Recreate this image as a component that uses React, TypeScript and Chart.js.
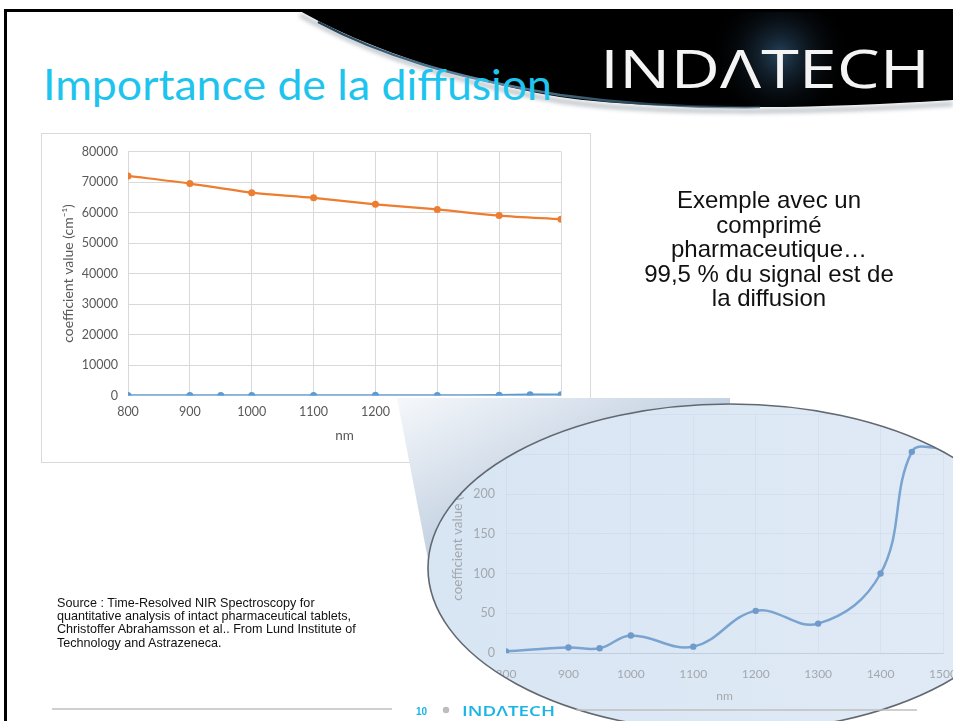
import React, { useEffect, useRef } from "react";
import { Chart, registerables } from "chart.js";

Chart.register(...registerables);

// ---- data ----
const absorptionWavelengths = [800, 900, 950, 1000, 1100, 1200, 1300, 1400, 1450, 1500];
const absorptionValues = [2, 7, 6, 22, 8, 53, 37, 100, 253, 258];
const scatteringWavelengths = [800, 900, 1000, 1100, 1200, 1300, 1400, 1500];
const scatteringValues = [72000, 69500, 66500, 64800, 62700, 61000, 59000, 57800];

const mainXRange = [800, 1500];
const mainXStep = 100;
const mainYRange = [0, 80000];
const mainYStep = 10000;
const insetXRange = [800, 1500];
const insetYRange = [0, 300];
const insetYStep = 50;

const titleText = "Importance de la diffusion";
const noteLines = ["Exemple avec un", "comprimé", "pharmaceutique…", "99,5 % du signal est de", "la diffusion"];
const sourceLines = [
  "Source : Time-Resolved NIR Spectroscopy for",
  "quantitative analysis of intact pharmaceutical tablets,",
  "Christoffer Abrahamsson et al.. From Lund Institute of",
  "Technology and Astrazeneca.",
];

const FONT = 'Lato, "Open Sans", "DejaVu Sans", sans-serif';
const ARIAL = '"Liberation Sans", Arial, sans-serif';

const toXY = (xs: number[], ys: number[]) => xs.map((x, i) => ({ x, y: ys[i] }));

// inset lens geometry (canvas coordinates of inset canvas)
const INSET_LEFT = 420;
const INSET_TOP = 395;
const INSET_W = 580;
const INSET_H = 340;
const LENS = { cx: 310, cy: 173, rx: 302, ry: 164 };

export default function App() {
  const mainRef = useRef<HTMLCanvasElement>(null);
  const insetRef = useRef<HTMLCanvasElement>(null);

  useEffect(() => {
    const charts: Chart[] = [];
    const plain = (v: any) => String(v);

    if (mainRef.current) {
      charts.push(
        new Chart(mainRef.current, {
          type: "line",
          data: {
            datasets: [
              {
                label: "absorption",
                data: toXY(absorptionWavelengths, absorptionValues),
                borderColor: "#5b9bd5",
                backgroundColor: "#5b9bd5",
                borderWidth: 2.25,
                pointRadius: 3.5,
                pointBorderWidth: 0,
                tension: 0.3,
              },
              {
                label: "scattering",
                data: toXY(scatteringWavelengths, scatteringValues),
                borderColor: "#ed7d31",
                backgroundColor: "#ed7d31",
                borderWidth: 2.25,
                pointRadius: 3.5,
                pointBorderWidth: 0,
                tension: 0.3,
              },
            ],
          },
          options: {
            animation: false,
            responsive: false,
            layout: { padding: { left: 0, right: 29, top: 15, bottom: 0 } },
            plugins: { legend: { display: false }, tooltip: { enabled: false } },
            scales: {
              x: {
                type: "linear",
                min: mainXRange[0],
                max: mainXRange[1],
                ticks: {
                  stepSize: mainXStep,
                  callback: plain,
                  padding: 9,
                  color: "#595959",
                  maxRotation: 0,
                  font: { family: FONT, size: 12.5 },
                },
                grid: { color: "#d9d9d9", drawTicks: false },
                border: { color: "#d9d9d9" },
                title: {
                  display: true,
                  text: "nm",
                  color: "#595959",
                  font: { family: FONT, size: 13.5 },
                  padding: { top: 0, bottom: 18 },
                },
                afterFit: (s: any) => {
                  s.height = 66.5;
                },
              },
              y: {
                min: mainYRange[0],
                max: mainYRange[1],
                ticks: {
                  stepSize: mainYStep,
                  callback: plain,
                  padding: 10,
                  color: "#595959",
                  font: { family: FONT, size: 12.5 },
                },
                grid: { color: "#d9d9d9", drawTicks: false },
                border: { color: "#d9d9d9" },
                title: {
                  display: true,
                  text: "coefficient value (cm⁻¹)",
                  color: "#595959",
                  font: { family: FONT, size: 14 },
                  padding: { top: 18, bottom: 0 },
                },
                afterFit: (s: any) => {
                  s.width = 86;
                },
              },
            },
          },
        } as any)
      );
    }

    if (insetRef.current) {
      const lensPlugin = {
        id: "lens",
        beforeDraw(chart: any) {
          const ctx = chart.ctx as CanvasRenderingContext2D;
          ctx.save();
          ctx.beginPath();
          ctx.ellipse(LENS.cx, LENS.cy, LENS.rx, LENS.ry, 0, 0, Math.PI * 2);
          const g = ctx.createLinearGradient(LENS.cx - LENS.rx, 0, LENS.cx + LENS.rx, 0);
          g.addColorStop(0, "#d8e5f3");
          g.addColorStop(1, "#e1ebf6");
          ctx.fillStyle = g;
          ctx.fill();
          ctx.clip();
        },
        afterDraw(chart: any) {
          const ctx = chart.ctx as CanvasRenderingContext2D;
          ctx.restore();
          ctx.save();
          ctx.beginPath();
          ctx.ellipse(LENS.cx, LENS.cy, LENS.rx, LENS.ry, 0, 0, Math.PI * 2);
          ctx.strokeStyle = "#626870";
          ctx.lineWidth = 1.6;
          ctx.stroke();
          ctx.restore();
        },
      };
      charts.push(
        new Chart(insetRef.current, {
          type: "line",
          data: {
            datasets: [
              {
                label: "absorption",
                data: toXY(absorptionWavelengths, absorptionValues),
                borderColor: "#7aa4d0",
                backgroundColor: "#6f9acb",
                borderWidth: 2.5,
                pointRadius: 3.2,
                pointBorderWidth: 0,
                tension: 0.4,
              },
            ],
          },
          options: {
            animation: false,
            responsive: false,
            layout: { padding: { left: 0, right: 57, top: 19.5, bottom: 0 } },
            plugins: { legend: { display: false }, tooltip: { enabled: false } },
            scales: {
              x: {
                type: "linear",
                min: insetXRange[0],
                max: insetXRange[1],
                ticks: {
                  stepSize: 100,
                  callback: plain,
                  padding: 14,
                  color: "#a3a8ae",
                  maxRotation: 0,
                  autoSkip: false,
                  font: { family: FONT, size: 12 },
                },
                grid: { color: "rgba(170,190,215,0.18)", drawTicks: false },
                border: { color: "rgba(170,185,205,0.45)" },
                title: {
                  display: true,
                  text: "nm",
                  color: "#a3a8ae",
                  font: { family: FONT, size: 12 },
                  padding: { top: 0, bottom: 32 },
                },
                afterFit: (s: any) => {
                  s.height = 82;
                },
              },
              y: {
                min: insetYRange[0],
                max: insetYRange[1],
                ticks: {
                  stepSize: insetYStep,
                  callback: plain,
                  padding: 11,
                  color: "#a3a8ae",
                  font: { family: FONT, size: 12.5 },
                },
                grid: { color: "rgba(170,190,215,0.18)", drawTicks: false },
                border: { display: false },
                title: {
                  display: true,
                  text: "coefficient value (cm⁻¹)",
                  color: "#a3a8ae",
                  font: { family: FONT, size: 13.5 },
                  padding: { top: 30, bottom: 0 },
                },
                afterFit: (s: any) => {
                  s.width = 86;
                },
              },
            },
          },
          plugins: [lensPlugin],
        } as any)
      );
    }

    return () => charts.forEach((c) => c.destroy());
  }, []);

  const abs = (o: React.CSSProperties): React.CSSProperties => ({ position: "absolute", ...o });

  return (
    <div style={abs({ left: 0, top: 0, width: 953, height: 721, overflow: "hidden", background: "#fff" })}>
      {/* header */}
      <svg width={953} height={135} style={abs({ left: 0, top: 0 })}>
        <defs>
          <radialGradient id="glow" cx="780" cy="55" r="70" gradientUnits="userSpaceOnUse">
            <stop offset="0" stopColor="#2a4a66" stopOpacity="0.9" />
            <stop offset="1" stopColor="#000" stopOpacity="0" />
          </radialGradient>
          <linearGradient id="hl" x1="320" y1="0" x2="720" y2="0" gradientUnits="userSpaceOnUse">
            <stop offset="0" stopColor="#1d3b50" />
            <stop offset="0.4" stopColor="#5f8eab" />
            <stop offset="1" stopColor="#23465c" stopOpacity="0.6" />
          </linearGradient>
          <filter id="soft" x="-10%" y="-50%" width="120%" height="200%">
            <feGaussianBlur stdDeviation="2" />
          </filter>
          <clipPath id="swooshClip">
            <path d="M300,11 L953,11 L953,100 C800,110 650,110 560,97 C450,78 360,45 300,11 Z" />
          </clipPath>
        </defs>
        <path
          d="M953,104 C800,114 650,114 560,101 C450,82 360,49 300,15"
          fill="none"
          stroke="#9aa3ab"
          strokeWidth={4}
          filter="url(#soft)"
          opacity={0.7}
        />
        <path d="M300,11 L953,11 L953,100 C800,110 650,110 560,97 C450,78 360,45 300,11 Z" fill="#000" />
        <rect x={690} y={11} width={180} height={100} fill="url(#glow)" clipPath="url(#swooshClip)" />
        <path
          d="M318,22 C380,55 455,78 560,95 C640,106 700,108 760,107"
          fill="none"
          stroke="url(#hl)"
          strokeWidth={2.5}
        />
        <text
          x={600}
          y={88}
          fill="#f4f4f4"
          fontFamily='"Open Sans", "DejaVu Sans", sans-serif'
          fontWeight={400}
          fontSize={53}
          textLength={330}
          lengthAdjust="spacingAndGlyphs"
        >
          INDΛTECH
        </text>
        <text
          x={43}
          y={100}
          fill="#1fc4ee"
          fontFamily={FONT}
          fontWeight={400}
          fontSize={43}
          textLength={509}
          lengthAdjust="spacingAndGlyphs"
        >
          {titleText}
        </text>
      </svg>

      {/* slide frame */}
      <div style={abs({ left: 4, top: 9, width: 960, height: 730, borderTop: "3px solid #000", borderLeft: "3px solid #000" })} />

      {/* main chart box */}
      <div
        style={abs({
          left: 41,
          top: 133,
          width: 550,
          height: 330,
          border: "1px solid #d9d9d9",
          boxSizing: "border-box",
          background: "#fff",
        })}
      >
        <canvas ref={mainRef} width={548} height={328} style={abs({ left: 0, top: 0, width: 548, height: 328 })} />
      </div>

      {/* zoom callout */}
      <svg width={953} height={721} style={abs({ left: 0, top: 0 })}>
        <defs>
          <linearGradient id="callout" x1="410" y1="400" x2="490" y2="560" gradientUnits="userSpaceOnUse">
            <stop offset="0" stopColor="#f3f6fa" />
            <stop offset="1" stopColor="#b9c9dc" />
          </linearGradient>
        </defs>
        <polygon points="397,398 730,398 730,418 431,575" fill="url(#callout)" />
      </svg>

      {/* inset chart in the lens */}
      <canvas
        ref={insetRef}
        width={INSET_W}
        height={INSET_H}
        style={abs({ left: INSET_LEFT, top: INSET_TOP, width: INSET_W, height: INSET_H, filter: "blur(0.45px)" })}
      />

      {/* note */}
      <div
        style={abs({
          left: 619,
          top: 188,
          width: 300,
          textAlign: "center",
          fontFamily: ARIAL,
          fontSize: 24,
          lineHeight: "24.5px",
          color: "#111",
          whiteSpace: "nowrap",
        })}
      >
        {noteLines.map((l, i) => (
          <div key={i}>{l}</div>
        ))}
      </div>

      {/* source */}
      <div
        style={abs({
          left: 57,
          top: 597,
          fontFamily: ARIAL,
          fontSize: 12.6,
          lineHeight: "13.2px",
          color: "#111",
          whiteSpace: "nowrap",
        })}
      >
        {sourceLines.map((l, i) => (
          <div key={i}>{l}</div>
        ))}
      </div>

      {/* footer */}
      <svg width={953} height={721} style={abs({ left: 0, top: 0 })}>
        <line x1={52} y1={709} x2={392} y2={709} stroke="#bfbfbf" strokeWidth={1.5} />
        <line x1={576} y1={710} x2={917} y2={710} stroke="#bfbfbf" strokeWidth={1.5} />
        <text x={416} y={715} fill="#1ab4e6" fontFamily={ARIAL} fontWeight={700} fontSize={10}>
          10
        </text>
        <circle cx={446} cy={710} r={3.2} fill="#bdbdbd" />
        <text
          x={462}
          y={716}
          fill="#1ab4e6"
          fontFamily='"Open Sans", "DejaVu Sans", sans-serif'
          fontWeight={600}
          fontSize={15}
          textLength={93}
          lengthAdjust="spacingAndGlyphs"
        >
          INDΛTECH
        </text>
      </svg>
    </div>
  );
}
